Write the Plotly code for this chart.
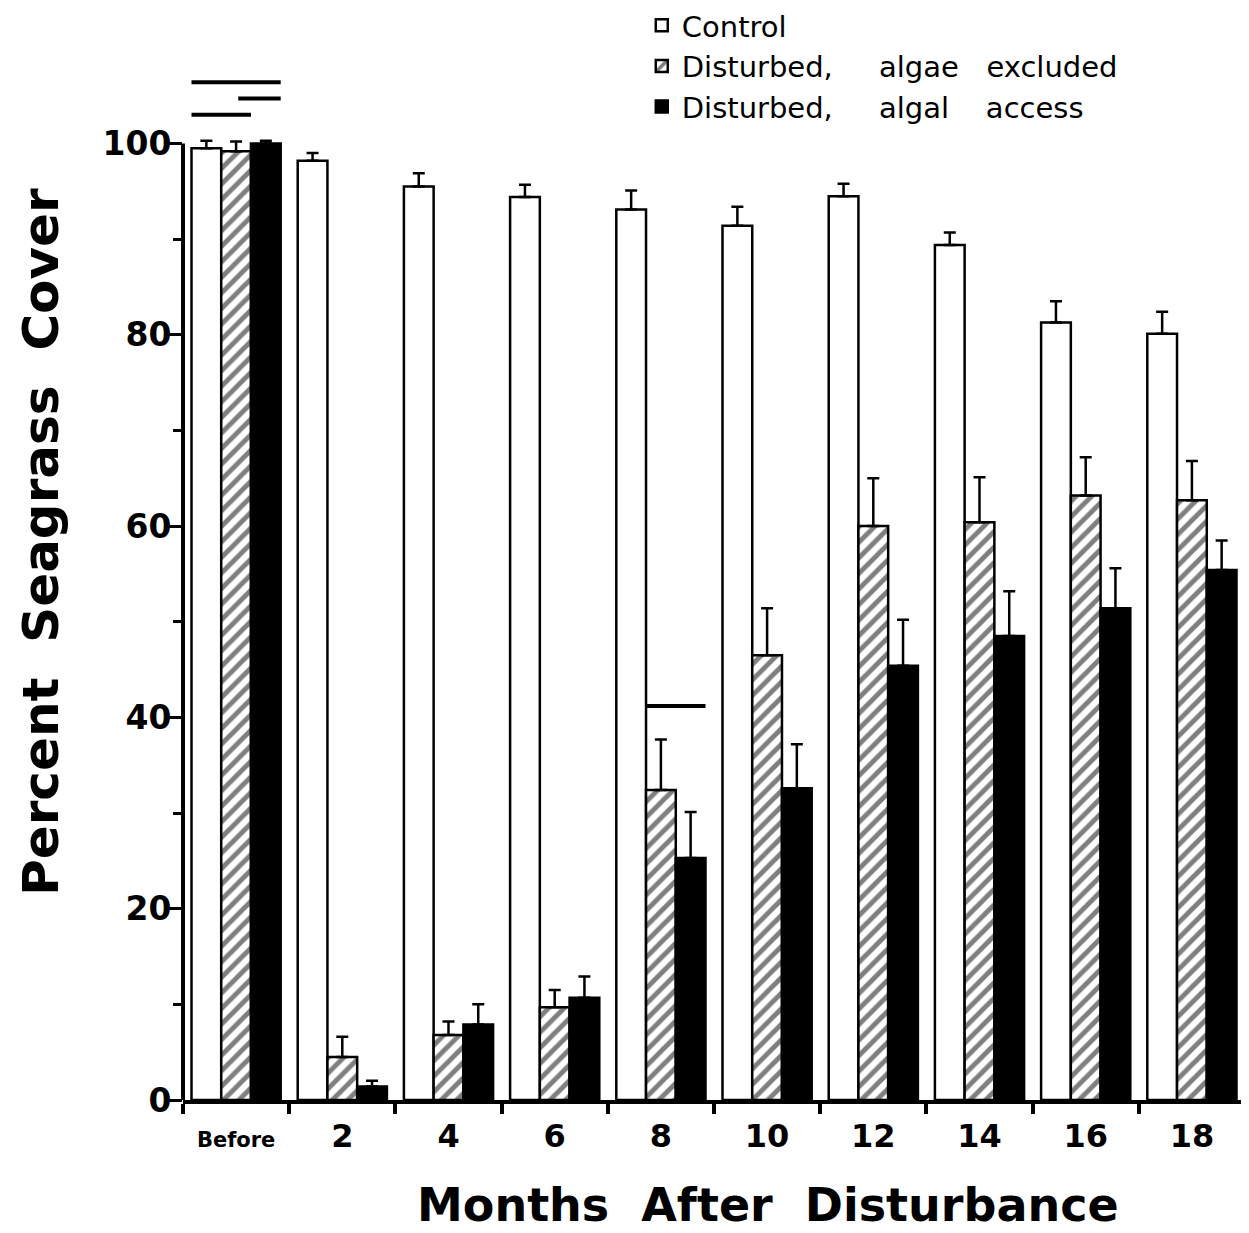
import plotly.graph_objects as go

categories = ["Before", "2", "4", "6", "8", "10", "12", "14", "16", "18"]

control = [99.5, 98.2, 95.5, 94.4, 93.1, 91.4, 94.5, 89.4, 81.3, 80.1]
control_se = [0.8, 0.8, 1.4, 1.3, 2.0, 2.0, 1.3, 1.3, 2.2, 2.3]

excluded = [99.2, 4.5, 6.8, 9.7, 32.4, 46.5, 60.0, 60.4, 63.2, 62.7]
excluded_se = [1.0, 2.1, 1.4, 1.8, 5.3, 4.9, 5.0, 4.7, 4.0, 4.1]

access = [100.0, 1.4, 7.9, 10.7, 25.3, 32.6, 45.4, 48.5, 51.4, 55.4]
access_se = [0.3, 0.6, 2.1, 2.2, 4.8, 4.6, 4.8, 4.7, 4.2, 3.1]

# significance lines: (group index, start rel. to group centre, end rel., y level)
sig_lines = [
    (0, -0.42, 0.42, 106.4),
    (0, 0.02, 0.42, 104.7),
    (0, -0.42, 0.14, 103.0),
    (4, -0.14, 0.42, 41.2),
]

FONT = "DejaVu Sans, Liberation Sans, Arial, sans-serif"
xs = list(range(len(categories)))

def bar(name, vals, errs, color, pattern=None):
    return go.Bar(
        x=xs, y=vals, name=name,
        marker=dict(color=color, line=dict(color="black", width=2.5),
                    pattern=pattern),
        error_y=dict(type="data", symmetric=False, array=errs,
                     arrayminus=[0] * len(errs), color="black",
                     thickness=2.5, width=6),
    )

fig = go.Figure()
fig.add_trace(bar("Control", control, control_se, "white"))
fig.add_trace(bar("Disturbed,     algae   excluded", excluded, excluded_se, "white",
                  dict(shape="/", fgcolor="black", bgcolor="white", size=11, solidity=0.45)))
fig.add_trace(bar("Disturbed,     algal    access", access, access_se, "black"))

for g, a, b, yv in sig_lines:
    fig.add_shape(type="line", xref="x", yref="y", x0=g + a, x1=g + b, y0=yv, y1=yv,
                  line=dict(color="black", width=4))

# y-axis spine only from 0 to 100
fig.add_shape(type="line", xref="paper", yref="y", x0=0, x1=0, y0=0, y1=100,
              line=dict(color="black", width=4))

ticktext = ['<span style="font-size:21px">Before</span>'] + categories[1:]

fig.add_annotation(text="Percent  Seagrass  Cover", xref="paper", yref="paper",
                   x=-0.134, y=0.54, textangle=-90, showarrow=False,
                   xanchor="center", yanchor="middle",
                   font=dict(size=50, family=FONT, weight="bold"))
fig.add_annotation(text="Months  After  Disturbance", xref="paper", yref="paper",
                   x=0.551, y=-0.102, showarrow=False,
                   xanchor="center", yanchor="middle",
                   font=dict(size=46, family=FONT, weight="bold"))

fig.update_layout(
    width=1241, height=1225,
    margin=dict(l=175, r=4, t=59, b=133, autoexpand=False),
    paper_bgcolor="white", plot_bgcolor="white",
    barmode="group", bargap=0.16, bargroupgap=0,
    font=dict(family=FONT, color="black"),
    showlegend=True,
    legend=dict(x=0.432, y=1.065, xanchor="left", yanchor="top",
                font=dict(size=29, family=FONT), bgcolor="rgba(0,0,0,0)",
                tracegroupgap=0),
    xaxis=dict(
        range=[-0.5, 9.5], tickmode="array", tickvals=xs, ticktext=ticktext,
        ticks="outside", ticklen=0, showgrid=False, zeroline=False,
        showline=True, linecolor="black", linewidth=4, automargin=False,
        ticklabelstandoff=5,
        tickfont=dict(size=32, family=FONT, weight="bold"),
        minor=dict(tickmode="array", tickvals=[i - 0.5 for i in range(len(categories) + 1)],
                   ticks="outside", ticklen=10, tickwidth=4, tickcolor="black"),
    ),
    yaxis=dict(
        range=[0, 108], tickmode="array", tickvals=[0, 20, 40, 60, 80, 100],
        ticks="outside", ticklen=13, tickwidth=3, tickcolor="black",
        showgrid=False, zeroline=False, showline=False, automargin=False,
        ticklabelstandoff=-9,
        tickfont=dict(size=33, family=FONT, weight="bold"),
        minor=dict(tickmode="array", tickvals=[10, 30, 50, 70, 90],
                   ticks="outside", ticklen=9, tickwidth=3, tickcolor="black"),
    ),
)

fig.write_html("out.html")
